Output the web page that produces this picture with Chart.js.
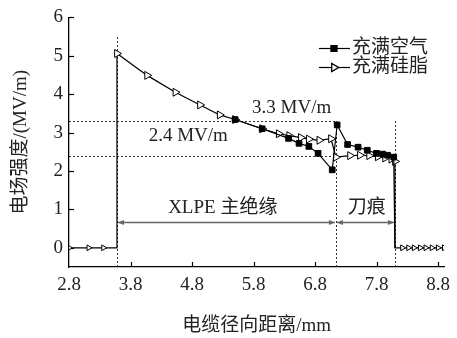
<!DOCTYPE html>
<html>
<head>
<meta charset="utf-8">
<script src="https://cdn.jsdelivr.net/npm/chart.js@4.4.0/dist/chart.umd.min.js"></script>
<style>
html, body { margin: 0; padding: 0; background: #fff; }
#wrap { width: 457px; height: 338px; }
</style>
</head>
<body>
<div id="wrap"><canvas id="c"></canvas></div>
<script>
// 充满空气
const airX = [5.5, 5.94, 6.37, 6.54, 6.7, 6.85, 7.08, 7.16, 7.33, 7.5, 7.65, 7.8, 7.9, 7.98, 8.08, 8.1]
const airY = [3.34, 3.10, 2.85, 2.72, 2.64, 2.46, 2.03, 3.2, 2.69, 2.62, 2.54, 2.46, 2.44, 2.41, 2.36, 0]
// 充满硅脂
const siliconeX = [2.8, 3.12, 3.36, 3.58, 3.58, 4.07, 4.53, 4.93, 5.25, 5.5, 5.94, 6.21, 6.38, 6.57, 6.7, 6.87, 7.06, 7.14, 7.37, 7.53, 7.68, 7.82, 7.94, 8.04, 8.1, 8.1, 8.22, 8.32, 8.41, 8.51, 8.6, 8.7, 8.8, 8.9]
const siliconeY = [0, 0, 0, 0, 5.06, 4.49, 4.05, 3.72, 3.46, 3.34, 3.10, 2.97, 2.92, 2.87, 2.83, 2.80, 2.84, 2.36, 2.40, 2.41, 2.40, 2.37, 2.34, 2.31, 2.25, 0, 0, 0, 0, 0, 0, 0, 0, 0]

const xTicks = [2.8, 3.8, 4.8, 5.8, 6.8, 7.8, 8.8]
const yTicks = [0, 1, 2, 3, 4, 5, 6]

// 虚线
const guideX = [3.58, 7.14, 8.1]
const guideTop = [5.5, 3.3, 3.3]
const guideY = [3.3, 2.4]
const guideYEnd = 7.14

// 箭头 + 文字
const arrowFrom = [3.58, 7.14]
const arrowTo = [7.14, 8.1]
const arrowY = 0.67
const noteText = ['3.3 MV/m', '2.4 MV/m', 'XLPE 主绝缘', '刀痕']
const noteX = [6.42, 4.74, 5.30, 7.64]
const noteY = [3.64, 2.92, 1.03, 1.03]

const seriesNames = ['充满空气', '充满硅脂']

const serif = "'Liberation Serif', 'Noto Sans CJK SC', serif"

function toPoints(xs, ys) {
    return xs.map((x, i) => ({x: x, y: ys[i]}))
}

// esquinas de los escalones sin marcador
function isCorner(ctx, xs) {
    const i = ctx.dataIndex
    const p = ctx.raw
    if (!p || p.y !== 0) return false
    return xs[i - 1] === p.x || xs[i + 1] === p.x
}

const extras = {
    id: 'extras',
    beforeDatasetsDraw(chart) {
        const {ctx, scales: {x, y}} = chart
        ctx.save()
        ctx.strokeStyle = '#333'
        ctx.lineWidth = 1
        ctx.setLineDash([2, 2])
        guideX.forEach((gx, i) => {
            const px = Math.round(x.getPixelForValue(gx)) + 0.5
            ctx.beginPath()
            ctx.moveTo(px, y.getPixelForValue(-0.5))
            ctx.lineTo(px, y.getPixelForValue(guideTop[i]))
            ctx.stroke()
        })
        guideY.forEach(gy => {
            const py = Math.round(y.getPixelForValue(gy)) + 0.5
            ctx.beginPath()
            ctx.moveTo(x.getPixelForValue(2.8), py)
            ctx.lineTo(x.getPixelForValue(guideYEnd), py)
            ctx.stroke()
        })
        ctx.setLineDash([])

        // flechas
        ctx.strokeStyle = '#666'
        ctx.fillStyle = '#666'
        ctx.lineWidth = 1.5
        const ay = Math.round(y.getPixelForValue(arrowY)) + 0.5
        arrowFrom.forEach((a, i) => {
            const x1 = x.getPixelForValue(a) + 1
            const x2 = x.getPixelForValue(arrowTo[i]) - 1
            ctx.beginPath()
            ctx.moveTo(x1, ay)
            ctx.lineTo(x2, ay)
            ctx.stroke()
            ctx.beginPath()
            ctx.moveTo(x1, ay)
            ctx.lineTo(x1 + 6, ay - 2.5)
            ctx.lineTo(x1 + 6, ay + 2.5)
            ctx.closePath()
            ctx.fill()
            ctx.beginPath()
            ctx.moveTo(x2, ay)
            ctx.lineTo(x2 - 6, ay - 2.5)
            ctx.lineTo(x2 - 6, ay + 2.5)
            ctx.closePath()
            ctx.fill()
        })

        // textos
        ctx.fillStyle = '#222'
        ctx.font = '19px ' + serif
        ctx.textAlign = 'center'
        ctx.textBaseline = 'middle'
        noteText.forEach((t, i) => {
            ctx.fillText(t, x.getPixelForValue(noteX[i]), y.getPixelForValue(noteY[i]))
        })

        // marcas hacia dentro
        ctx.strokeStyle = '#000'
        ctx.lineWidth = 1.2
        const {left, bottom} = chart.chartArea
        xTicks.slice(1).forEach(v => {
            const px = Math.round(x.getPixelForValue(v)) + 0.5
            ctx.beginPath()
            ctx.moveTo(px, bottom)
            ctx.lineTo(px, bottom - 5)
            ctx.stroke()
        })
        yTicks.forEach(v => {
            const py = Math.round(y.getPixelForValue(v)) + 0.5
            ctx.beginPath()
            ctx.moveTo(left, py)
            ctx.lineTo(left + 5, py)
            ctx.stroke()
        })
        ctx.restore()
    },
    afterDraw(chart) {
        // leyenda
        const {ctx} = chart
        const rows = [48, 67]
        ctx.save()
        ctx.font = '19px ' + serif
        ctx.textAlign = 'left'
        ctx.textBaseline = 'middle'
        seriesNames.forEach((name, i) => {
            const yy = rows[i] + 0.5
            ctx.strokeStyle = '#000'
            ctx.lineWidth = 1.2
            ctx.beginPath()
            ctx.moveTo(319, yy)
            ctx.lineTo(350, yy)
            ctx.stroke()
            const ds = chart.data.datasets[i]
            Chart.helpers.drawPoint(ctx, {
                pointStyle: ds.pointStyle,
                rotation: ds.rotation || 0,
                radius: i === 0 ? 4 : 4.5,
                borderWidth: 1
            }, 334, yy)
            ctx.fillStyle = ds.pointBackgroundColor
            ctx.strokeStyle = '#000'
            ctx.fill()
            ctx.stroke()
            ctx.fillStyle = '#222'
            ctx.fillText(name, 352, yy)
        })
        ctx.restore()
    }
}

const ctx = document.getElementById('c').getContext('2d')

new Chart(ctx, {
    type: 'line',
    data: {
        datasets: [{
            label: seriesNames[0],
            data: toPoints(airX, airY),
            borderColor: '#000',
            borderWidth: 1.2,
            pointStyle: 'rect',
            pointBackgroundColor: '#000',
            pointBorderColor: '#000',
            pointBorderWidth: 1,
            pointRadius: c => (c.raw && c.raw.y === 0) ? 0 : 4,
            tension: 0
        }, {
            label: seriesNames[1],
            data: toPoints(siliconeX, siliconeY),
            borderColor: '#000',
            borderWidth: 1.2,
            pointStyle: 'triangle',
            rotation: 90,
            pointBackgroundColor: '#fff',
            pointBorderColor: '#000',
            pointBorderWidth: 1,
            pointRadius: c => isCorner(c, siliconeX) ? 0 : (c.raw && c.raw.y === 0 ? 3.3 : 4.6),
            tension: 0
        }]
    },
    options: {
        responsive: true,
        maintainAspectRatio: false,
        animation: false,
        layout: {
            padding: {left: 0, right: 7, top: 13, bottom: 0}
        },
        scales: {
            x: {
                type: 'linear',
                min: 2.8,
                max: 8.9,
                afterBuildTicks: s => { s.ticks = xTicks.map(v => ({value: v})) },
                afterFit: s => { s.height = 71 },
                grid: {drawOnChartArea: false, drawTicks: false},
                border: {color: '#000', width: 1.3},
                ticks: {
                    padding: 7,
                    color: '#222',
                    font: {family: serif, size: 19},
                    callback: v => v.toFixed(1)
                },
                title: {
                    display: true,
                    text: '电缆径向距离/mm',
                    color: '#222',
                    font: {family: serif, size: 19},
                    padding: {top: 0, bottom: 1}
                }
            },
            y: {
                type: 'linear',
                min: -0.5,
                max: 6,
                afterBuildTicks: s => { s.ticks = yTicks.map(v => ({value: v})) },
                afterFit: s => { s.width = 69 },
                grid: {drawOnChartArea: false, drawTicks: false},
                border: {color: '#000', width: 1.3},
                ticks: {
                    padding: 6,
                    color: '#222',
                    font: {family: serif, size: 19}
                },
                title: {
                    display: true,
                    text: '电场强度/(MV/m)',
                    color: '#222',
                    font: {family: serif, size: 19},
                    padding: {top: 10, bottom: 0}
                }
            }
        },
        plugins: {
            legend: {display: false},
            tooltip: {enabled: false}
        }
    },
    plugins: [extras]
})
</script>
</body>
</html>
